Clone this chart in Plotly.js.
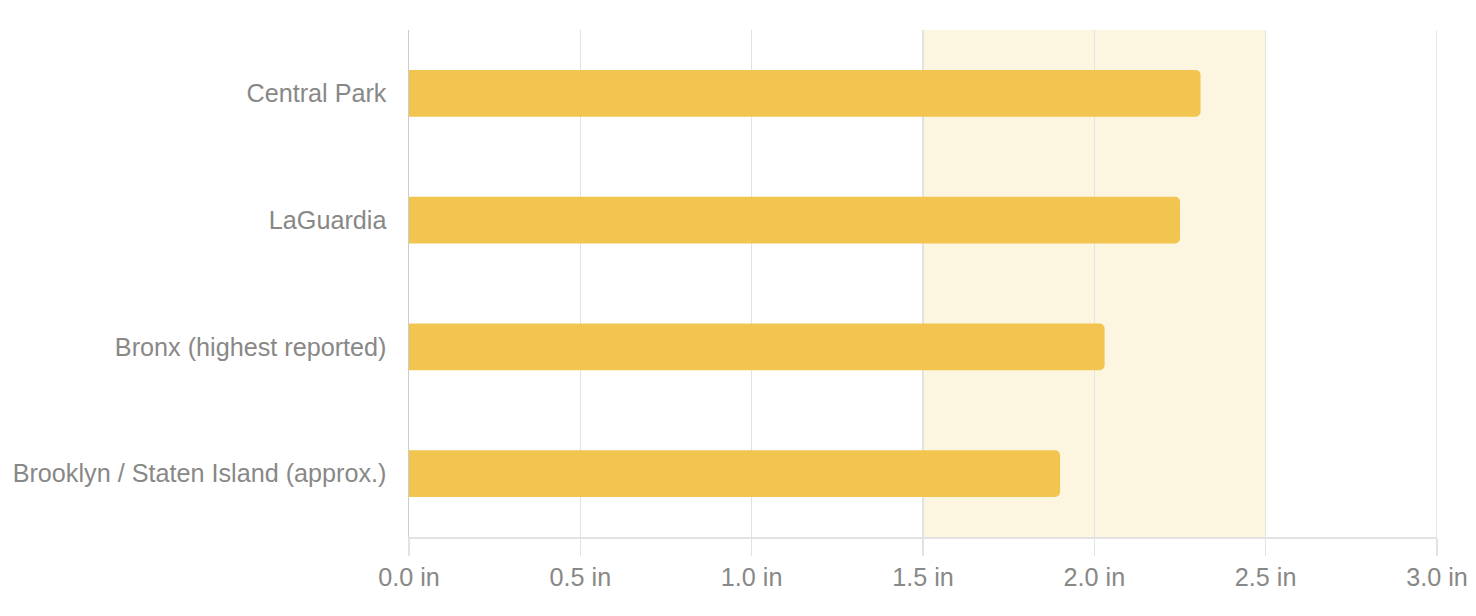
<!DOCTYPE html>
<html>
<head>
<meta charset="utf-8">
<script src="https://cdn.plot.ly/plotly-3.0.1.min.js"></script>
<style>html,body{margin:0;padding:0;background:#fff;}#chart{width:1476px;height:616px;}</style>
</head>
<body>
<div id="chart"></div>
<script>
const stations = ["Central Park", "LaGuardia", "Bronx (highest reported)", "Brooklyn / Staten Island (approx.)"];
const rainfall = [2.31, 2.25, 2.03, 1.90];
const xTickVals = [0, 0.5, 1.0, 1.5, 2.0, 2.5, 3.0];
const xTickText = ["0.0 in", "0.5 in", "1.0 in", "1.5 in", "2.0 in", "2.5 in", "3.0 in"];
const bandRange = [1.5, 2.5];

const font = {family: "Liberation Sans, Arial, sans-serif", size: 25.2, color: "#888886"};

const data = [{
  type: "bar",
  orientation: "h",
  y: stations,
  x: rainfall,
  width: 0.37,
  marker: {color: "#f2c550", cornerradius: 5, line: {width: 0}},
  hoverinfo: "skip"
}];

const layout = {
  width: 1476, height: 616,
  margin: {l: 409, r: 39, t: 30, b: 79, pad: 0},
  paper_bgcolor: "#ffffff",
  plot_bgcolor: "#ffffff",
  font: font,
  showlegend: false,
  xaxis: {
    range: [0, 3],
    tickvals: xTickVals,
    ticktext: xTickText,
    showgrid: true,
    gridcolor: "#e2e2e2",
    gridwidth: 1.5,
    zeroline: false,
    showline: true,
    linecolor: "#e2e2e2",
    linewidth: 1.5,
    ticks: "outside",
    ticklen: 17,
    tickwidth: 1.5,
    tickcolor: "#e2e2e2",
    tickfont: font,
    fixedrange: true
  },
  yaxis: {
    type: "category",
    categoryorder: "array",
    categoryarray: stations,
    range: [3.5, -0.5],
    showgrid: false,
    zeroline: false,
    showline: true,
    linecolor: "#cccccc",
    linewidth: 1.5,
    ticks: "",
    ticklabelstandoff: 16,
    tickfont: font,
    fixedrange: true
  },
  shapes: [{
    type: "rect",
    xref: "x", yref: "paper",
    x0: bandRange[0], x1: bandRange[1],
    y0: 0, y1: 1,
    fillcolor: "#fcf5e0",
    line: {width: 0},
    layer: "below"
  }, {
    type: "line",
    xref: "x", yref: "paper",
    x0: xTickVals[xTickVals.length - 1], x1: xTickVals[xTickVals.length - 1],
    y0: 0, y1: 1,
    line: {color: "#e2e2e2", width: 1.5},
    layer: "below"
  }]
};

Plotly.newPlot("chart", data, layout, {displayModeBar: false, staticPlot: true});
</script>
</body>
</html>
